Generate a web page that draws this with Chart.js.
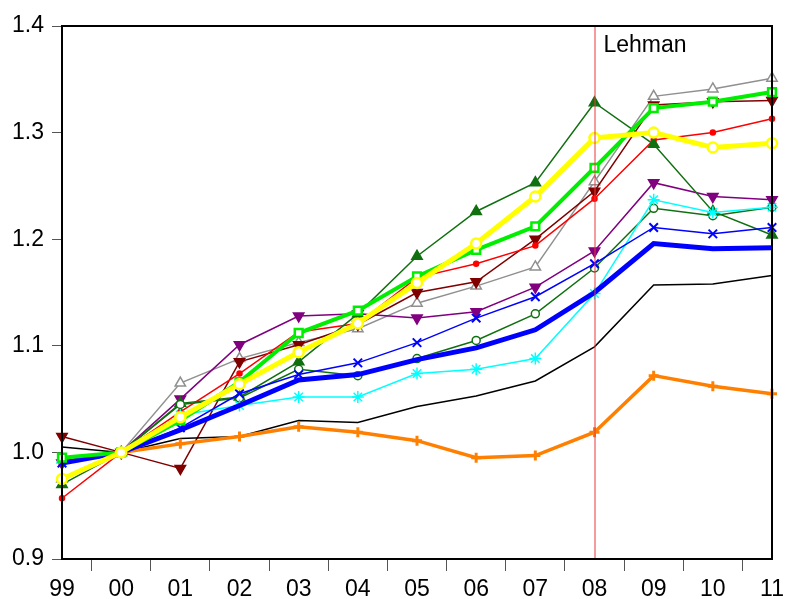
<!DOCTYPE html>
<html>
<head>
<meta charset="utf-8">
<script src="https://cdn.jsdelivr.net/npm/chart.js@4"></script>
<style>
  body { margin: 0; background: #fff; }
  canvas { display: block; }
</style>
</head>
<body>
<canvas id="chart" width="785" height="599"></canvas>
<script>
const years = ['99', '00', '01', '02', '03', '04', '05', '06', '07', '08', '09', '10', '11'];

const yellowSeries   = [0.975, 1.0, 1.033, 1.064, 1.094, 1.121, 1.159, 1.196, 1.240, 1.295, 1.300, 1.286, 1.290];
const limeSeries     = [0.995, 1.0, 1.030, 1.066, 1.112, 1.133, 1.165, 1.190, 1.212, 1.267, 1.323, 1.329, 1.338];
const blueThick      = [0.990, 1.0, 1.021, 1.044, 1.068, 1.073, 1.087, 1.098, 1.115, 1.150, 1.196, 1.191, 1.192];
const orangeSeries   = [0.975, 1.0, 1.008, 1.015, 1.024, 1.019, 1.011, 0.995, 0.997, 1.019, 1.072, 1.062, 1.055];
const blackSeries    = [1.005, 1.0, 1.013, 1.015, 1.030, 1.028, 1.043, 1.053, 1.067, 1.099, 1.157, 1.158, 1.166];
const blueCross      = [0.990, 1.0, 1.023, 1.055, 1.073, 1.084, 1.103, 1.126, 1.146, 1.177, 1.211, 1.205, 1.211];
const cyanSeries     = [0.990, 1.0, 1.035, 1.044, 1.052, 1.052, 1.074, 1.078, 1.088, 1.149, 1.237, 1.225, 1.230];
const greenCircle    = [0.975, 1.0, 1.045, 1.051, 1.078, 1.072, 1.088, 1.105, 1.130, 1.173, 1.229, 1.222, 1.230];
const greenTriangle  = [0.970, 1.0, 1.046, 1.052, 1.085, 1.130, 1.184, 1.226, 1.253, 1.328, 1.289, 1.226, 1.204];
const redSeries      = [0.957, 1.0, 1.038, 1.074, 1.113, 1.121, 1.164, 1.177, 1.194, 1.238, 1.293, 1.300, 1.313];
const maroonSeries   = [1.015, 1.0, 0.985, 1.085, 1.101, 1.120, 1.150, 1.160, 1.200, 1.245, 1.326, 1.329, 1.330];
const purpleSeries   = [0.990, 1.0, 1.050, 1.101, 1.128, 1.130, 1.126, 1.132, 1.155, 1.189, 1.253, 1.240, 1.237];
const graySeries     = [0.975, 1.0, 1.065, 1.088, 1.103, 1.116, 1.140, 1.156, 1.174, 1.254, 1.334, 1.341, 1.351];

const yTicks = [0.9, 1.0, 1.1, 1.2, 1.3, 1.4];
const eventIndex = 9;
const eventLabel = 'Lehman';

const fontFamily = '"Liberation Sans", Arial, sans-serif';

function line(data, color, width, style, radius, extra) {
    return Object.assign({
        data: data,
        borderColor: color,
        borderWidth: width,
        pointStyle: style || false,
        pointRadius: style ? radius : 0,
        pointBackgroundColor: color,
        pointBorderColor: color,
        pointBorderWidth: 1.5,
        tension: 0,
        fill: false
    }, extra || {});
}

const frame = {
    id: 'frame',
    afterDatasetsDraw(chart) {
        const { ctx, chartArea: a, scales } = chart;
        ctx.save();
        // Lehman line
        const x = scales.x.getPixelForValue(eventIndex);
        ctx.strokeStyle = '#e8383a';
        ctx.lineWidth = 1;
        ctx.beginPath();
        ctx.moveTo(x + 0.5, a.top);
        ctx.lineTo(x + 0.5, a.bottom);
        ctx.stroke();
        ctx.fillStyle = '#000';
        ctx.font = '23px ' + fontFamily;
        ctx.textBaseline = 'middle';
        ctx.fillText(eventLabel, x + 9, a.top + 20);
        // box
        ctx.strokeStyle = '#000';
        ctx.lineWidth = 2;
        ctx.strokeRect(a.left, a.top, a.right - a.left, a.bottom - a.top);
        ctx.restore();
    }
};

const ctx = document.getElementById('chart').getContext('2d');
const myChart = new Chart(ctx, {
    type: 'line',
    data: {
        labels: years,
        datasets: [
            line(yellowSeries, '#ffff00', 5, 'circle', 5, { pointBackgroundColor: '#fff', pointBorderWidth: 2.5 }),
            line(limeSeries, '#00ee00', 4, 'rect', 5.5, { pointBackgroundColor: '#fff', pointBorderWidth: 2.5 }),
            line(blueThick, '#0000ff', 5, null, 0),
            line(orangeSeries, '#ff8000', 3.5, 'cross', 5, { pointBorderWidth: 3 }),
            line(blackSeries, '#000000', 1.5, null, 0),
            line(blueCross, '#0000ff', 1.5, 'crossRot', 6, { pointBorderWidth: 2 }),
            line(cyanSeries, '#00ffff', 1.5, 'star', 6, { pointBorderWidth: 1.5 }),
            line(greenCircle, '#107010', 1.5, 'circle', 4, { pointBackgroundColor: '#fff' }),
            line(greenTriangle, '#107010', 1.5, 'triangle', 6),
            line(redSeries, '#ff0000', 1.5, 'circle', 2.5),
            line(maroonSeries, '#800000', 1.5, 'triangle', 6, { pointRotation: 180 }),
            line(purpleSeries, '#800080', 1.5, 'triangle', 6, { pointRotation: 180 }),
            line(graySeries, '#909090', 1.5, 'triangle', 6, { pointBackgroundColor: '#fff' })
        ]
    },
    options: {
        responsive: false,
        animation: false,
        layout: { padding: { top: 26, right: 13, left: 0, bottom: 0 } },
        plugins: { legend: { display: false }, tooltip: { enabled: false } },
        scales: {
            x: {
                offset: false,
                grid: { offset: true, drawOnChartArea: false, drawTicks: true, tickLength: 12, color: '#555', lineWidth: 1 },
                border: { display: true, color: '#000', width: 2 },
                ticks: { color: '#000', font: { size: 23, family: fontFamily }, padding: 5, maxRotation: 0, autoSkip: false },
                afterFit: s => { s.height = 40; s.paddingLeft = 0; s.paddingRight = 0; }
            },
            y: {
                min: 0.9,
                max: 1.4,
                afterBuildTicks: s => { s.ticks = yTicks.map(v => ({ value: v })); },
                grid: { drawOnChartArea: false, drawTicks: true, tickLength: 10, color: '#555', lineWidth: 1 },
                border: { display: true, color: '#000', width: 2 },
                ticks: { color: '#000', font: { size: 23, family: fontFamily }, padding: 8, callback: v => v.toFixed(1) },
                afterFit: s => { s.width = 62; s.paddingTop = 0; s.paddingBottom = 0; }
            }
        }
    },
    plugins: [frame]
});
</script>
</body>
</html>
